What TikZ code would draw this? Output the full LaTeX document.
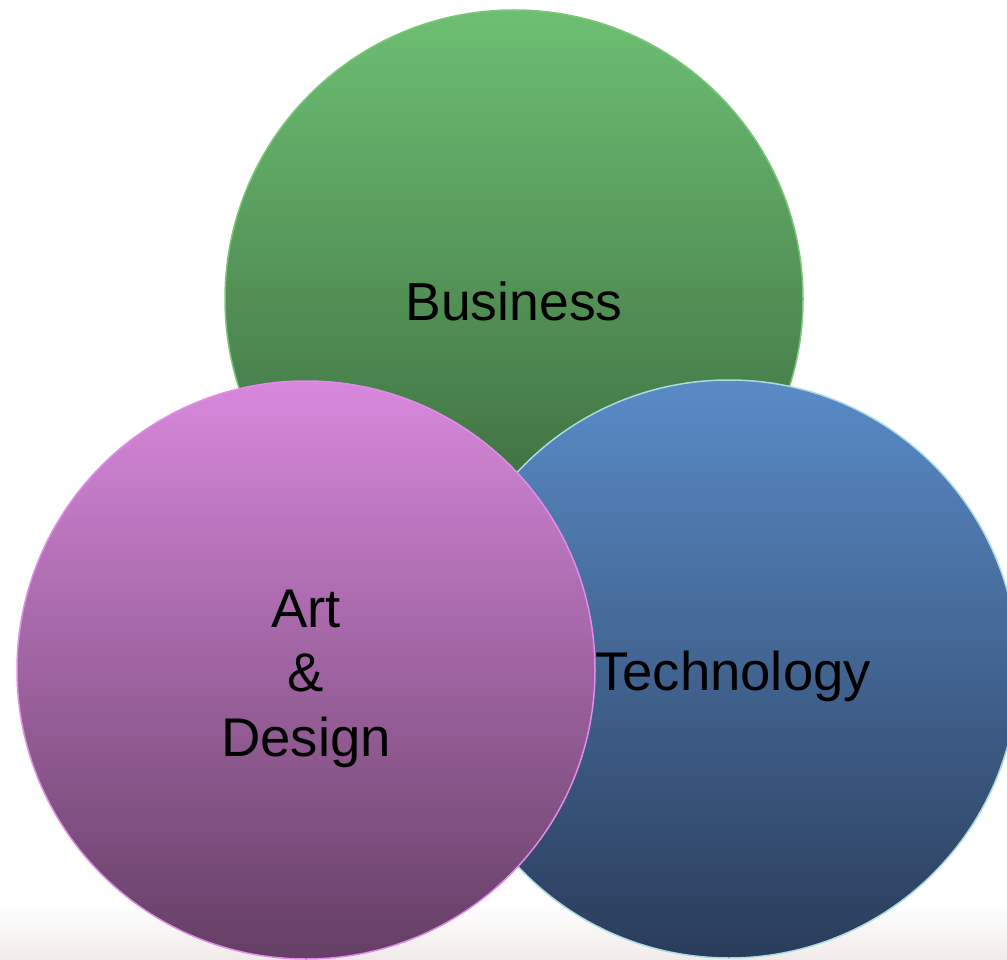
\documentclass[tikz,border=0pt]{standalone}
\usepackage{fontspec}
\setmainfont{Liberation Sans}
\definecolor{gtop}{RGB}{109,191,115}
\definecolor{gbot}{RGB}{55,97,56}
\definecolor{gline}{RGB}{120,200,120}
\definecolor{btop}{RGB}{89,139,199}
\definecolor{bmid}{RGB}{70,108,158}
\definecolor{bbot}{RGB}{42,60,90}
\definecolor{bline}{RGB}{170,220,225}
\definecolor{ptop}{RGB}{216,136,220}
\definecolor{pmid}{RGB}{170,108,172}
\definecolor{pbot}{RGB}{100,62,100}
\definecolor{pline}{RGB}{225,140,232}
\definecolor{floor}{RGB}{242,234,234}
\tikzset{
  venn/.style={circle, minimum size=578pt, inner sep=0pt, line width=1.5pt},
  lbl/.style={inner sep=0pt, align=center, anchor=base, text=black,
    font=\fontsize{54.5}{64.5}\selectfont},
}
\begin{document}
\begin{tikzpicture}[x=1pt,y=-1pt]
\clip (0,0) rectangle (1007,960);
\fill[white] (0,0) rectangle (1007,960);
\shade[top color=white, bottom color=floor] (0,905) rectangle (1007,960);
\node[venn, draw=gline, top color=gtop, bottom color=gbot] (bus) at (514,299) {};
\node[venn, draw=bline, top color=btop, middle color=bmid, bottom color=bbot] (tech) at (729,669) {};
\node[venn, draw=pline, top color=ptop, middle color=pmid, bottom color=pbot] (art) at (306,670) {};
\node[lbl, font=\fontsize{53.5}{64}\selectfont] (busl) at (514,320) {Business};
\node[lbl] (techl) at (733,690) {Technology};
\node[lbl] (artl) at (306,756) {Art\\\&\\Design};
\end{tikzpicture}
\end{document}
